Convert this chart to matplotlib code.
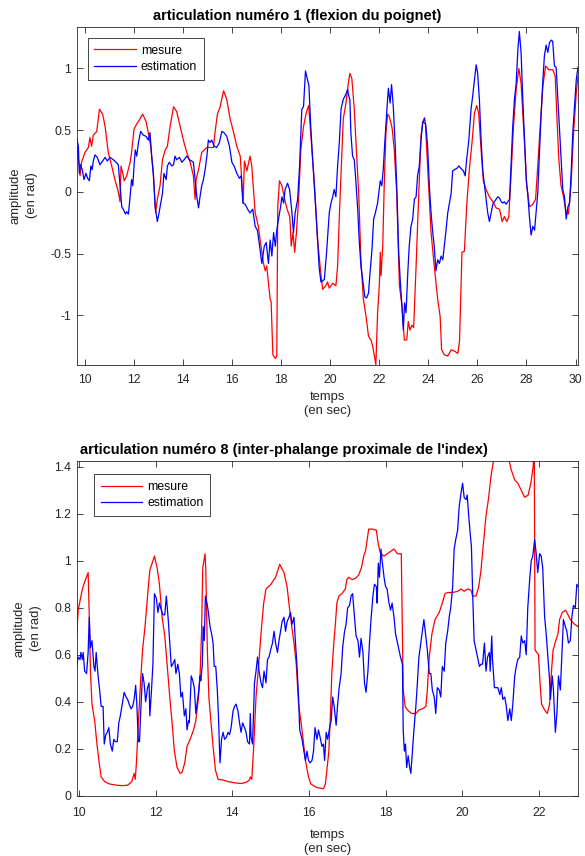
import numpy as np
import matplotlib
matplotlib.use("Agg")
import matplotlib.pyplot as plt
from matplotlib.ticker import FormatStrFormatter

plt.rcParams['font.family'] = ['Liberation Sans', 'DejaVu Sans']

# articulation 1 : (temps, amplitude)
mesure1 = [
    (9.66, 0.37), (9.77, 0.21), (9.80, 0.13), (9.86, 0.24), (10.00, 0.32), (10.14, 0.36),
    (10.20, 0.44), (10.27, 0.37), (10.34, 0.46), (10.48, 0.49), (10.59, 0.67), (10.72, 0.63),
    (10.82, 0.53), (10.95, 0.32), (11.09, 0.21), (11.22, 0.10), (11.36, 0.00), (11.43, -0.08),
    (11.47, 0.21), (11.54, 0.15), (11.60, 0.09), (11.70, 0.13), (11.84, 0.24), (11.90, 0.32),
    (12.00, 0.51), (12.11, 0.55), (12.24, 0.59), (12.35, 0.63), (12.49, 0.57), (12.58, 0.48),
    (12.68, 0.37), (12.79, 0.15), (12.88, -0.17), (12.95, -0.06), (13.06, 0.05), (13.16, 0.26),
    (13.27, 0.34), (13.36, 0.37), (13.47, 0.53), (13.61, 0.69), (13.74, 0.65), (13.88, 0.53),
    (14.01, 0.42), (14.15, 0.32), (14.29, 0.24), (14.42, 0.13), (14.49, -0.06), (14.53, 0.10),
    (14.63, 0.18), (14.76, 0.32), (14.86, 0.34), (14.97, 0.36), (15.24, 0.36), (15.30, 0.48),
    (15.40, 0.63), (15.51, 0.69), (15.65, 0.82), (15.78, 0.75), (15.92, 0.59), (16.05, 0.49),
    (16.19, 0.37), (16.33, 0.29), (16.39, 0.10), (16.45, -0.09), (16.50, 0.25), (16.60, 0.17),
    (16.73, 0.29), (16.80, 0.21), (16.94, -0.17), (17.07, -0.28), (17.14, -0.39), (17.28, -0.58),
    (17.35, -0.64), (17.41, -0.60), (17.48, -0.74), (17.55, -0.87), (17.59, -0.89), (17.66, -1.32),
    (17.76, -1.35), (17.82, -1.33), (17.86, -0.12), (17.93, 0.09), (18.03, 0.05), (18.14, -0.06),
    (18.24, -0.14), (18.35, -0.20), (18.41, -0.44), (18.48, -0.33), (18.55, -0.49), (18.62, -0.33),
    (18.71, -0.06), (18.80, 0.34), (18.91, 0.53), (19.02, 0.64), (19.12, 0.70), (19.35, 0.08),
    (19.48, -0.38), (19.61, -0.65), (19.69, -0.79), (19.82, -0.76), (19.89, -0.73), (19.96, -0.78),
    (20.10, -0.74), (20.23, -0.76), (20.30, -0.60), (20.37, -0.20), (20.44, 0.15), (20.53, 0.59),
    (20.64, 0.72), (20.75, 0.90), (20.80, 0.96), (20.88, 0.92), (20.98, 0.67), (21.07, 0.32),
    (21.16, -0.01), (21.25, -0.55), (21.35, -0.87), (21.46, -1.01), (21.56, -1.17), (21.66, -1.20),
    (21.73, -1.25), (21.80, -1.33), (21.86, -1.40), (21.93, -0.98), (22.00, -0.76), (22.04, -0.49),
    (22.07, -0.68), (22.14, -0.44), (22.20, 0.05), (22.27, 0.48), (22.34, 0.63), (22.41, 0.61),
    (22.52, 0.52), (22.61, 0.34), (22.71, -0.01), (22.82, -0.76), (22.93, -0.93), (23.02, -1.20),
    (23.12, -1.20), (23.18, -1.05), (23.25, -1.12), (23.33, -1.08), (23.40, -1.10), (23.50, -0.60),
    (23.60, -0.06), (23.70, 0.45), (23.77, 0.57), (23.88, 0.55), (23.97, 0.21), (24.11, -0.33),
    (24.24, -0.60), (24.38, -0.87), (24.48, -1.01), (24.54, -1.28), (24.65, -1.32), (24.79, -1.33),
    (24.93, -1.28), (25.07, -1.29), (25.20, -1.31), (25.27, -1.21), (25.37, -0.49), (25.47, -0.48),
    (25.56, -0.12), (25.67, 0.18), (25.78, 0.40), (25.88, 0.64), (25.97, 0.70), (26.05, 0.64),
    (26.15, 0.34), (26.24, 0.09), (26.35, 0.02), (26.49, -0.04), (26.63, -0.08), (26.76, -0.13),
    (26.90, -0.14), (27.01, -0.24), (27.10, -0.20), (27.20, -0.24), (27.28, -0.20), (27.37, 0.13),
    (27.47, 0.53), (27.58, 0.83), (27.69, 1.00), (27.78, 0.88), (27.88, 0.53), (27.92, 0.40),
    (28.01, 0.05), (28.12, -0.12), (28.26, -0.10), (28.37, -0.06), (28.46, 0.21), (28.56, 0.53),
    (28.67, 0.86), (28.78, 1.02), (28.91, 0.99), (29.07, 0.99), (29.17, 0.94), (29.24, 0.61),
    (29.32, 0.26), (29.41, 0.05), (29.51, -0.04), (29.62, -0.17), (29.71, -0.18), (29.82, 0.07),
    (29.92, 0.48), (30.03, 0.80), (30.10, 0.94),
]

estimation1 = [
    (9.66, 0.44), (9.73, 0.37), (9.77, 0.15), (9.82, 0.22), (9.89, 0.18), (9.96, 0.10),
    (10.04, 0.15), (10.11, 0.11), (10.18, 0.09), (10.24, 0.21), (10.29, 0.18), (10.34, 0.25),
    (10.41, 0.30), (10.50, 0.28), (10.61, 0.22), (10.72, 0.25), (10.82, 0.28), (10.91, 0.25),
    (11.02, 0.28), (11.16, 0.26), (11.27, 0.24), (11.36, 0.22), (11.43, 0.05), (11.50, -0.12),
    (11.56, -0.14), (11.65, -0.18), (11.70, -0.16), (11.77, -0.18), (11.84, -0.04), (11.90, 0.10),
    (11.95, 0.05), (12.00, 0.21), (12.05, 0.34), (12.11, 0.29), (12.18, 0.40), (12.27, 0.49),
    (12.38, 0.46), (12.49, 0.45), (12.58, 0.42), (12.65, 0.48), (12.72, 0.29), (12.79, 0.13),
    (12.86, -0.12), (12.95, -0.24), (13.02, -0.17), (13.09, -0.09), (13.16, -0.01), (13.22, 0.15),
    (13.31, 0.10), (13.36, 0.21), (13.44, 0.24), (13.54, 0.21), (13.61, 0.22), (13.67, 0.29),
    (13.74, 0.26), (13.85, 0.28), (13.95, 0.24), (14.04, 0.26), (14.15, 0.29), (14.26, 0.26),
    (14.35, 0.25), (14.42, 0.24), (14.49, 0.10), (14.56, -0.04), (14.63, -0.13), (14.69, -0.04),
    (14.76, 0.05), (14.83, 0.10), (14.90, 0.18), (14.97, 0.29), (15.03, 0.42), (15.10, 0.40),
    (15.17, 0.42), (15.27, 0.37), (15.37, 0.36), (15.48, 0.40), (15.58, 0.49), (15.67, 0.48),
    (15.78, 0.45), (15.89, 0.37), (15.99, 0.24), (16.08, 0.21), (16.19, 0.15), (16.30, 0.11),
    (16.37, 0.13), (16.44, -0.09), (16.53, -0.10), (16.63, -0.14), (16.73, -0.17), (16.84, -0.14),
    (16.94, -0.28), (17.03, -0.31), (17.12, -0.44), (17.21, -0.58), (17.31, -0.44), (17.39, -0.41),
    (17.48, -0.58), (17.55, -0.39), (17.62, -0.52), (17.69, -0.33), (17.76, -0.44), (17.82, -0.31),
    (17.89, -0.22), (17.96, -0.14), (18.03, -0.04), (18.10, -0.09), (18.16, 0.02), (18.26, 0.07),
    (18.34, 0.02), (18.44, -0.17), (18.50, -0.33), (18.57, -0.17), (18.67, -0.06), (18.75, 0.21),
    (18.84, 0.67), (18.91, 0.69), (18.99, 0.98), (19.07, 0.91), (19.13, 0.86), (19.20, 0.55),
    (19.28, 0.27), (19.35, 0.05), (19.45, -0.27), (19.55, -0.62), (19.62, -0.73), (19.76, -0.71),
    (19.85, -0.49), (19.96, -0.17), (20.03, -0.09), (20.10, -0.04), (20.16, 0.02), (20.23, -0.04),
    (20.30, 0.21), (20.37, 0.40), (20.44, 0.67), (20.53, 0.75), (20.61, 0.78), (20.71, 0.83),
    (20.75, 0.78), (20.80, 0.75), (20.84, 0.48), (20.91, 0.29), (20.98, 0.26), (21.05, 0.07),
    (21.12, -0.14), (21.18, -0.39), (21.25, -0.60), (21.32, -0.71), (21.41, -0.85), (21.48, -0.86),
    (21.56, -0.82), (21.62, -0.66), (21.70, -0.47), (21.77, -0.22), (21.84, -0.17), (21.93, -0.09),
    (22.00, 0.02), (22.04, 0.09), (22.10, 0.05), (22.16, 0.18), (22.23, 0.42), (22.31, 0.67),
    (22.37, 0.84), (22.44, 0.72), (22.50, 0.87), (22.57, 0.69), (22.65, 0.37), (22.72, -0.01),
    (22.79, -0.49), (22.86, -0.74), (22.93, -0.95), (22.98, -1.12), (23.03, -0.90), (23.09, -0.98),
    (23.16, -0.66), (23.22, -0.44), (23.29, -0.28), (23.36, -0.22), (23.43, -0.06), (23.50, -0.04),
    (23.56, 0.13), (23.63, 0.21), (23.70, 0.42), (23.77, 0.56), (23.84, 0.60), (23.90, 0.53),
    (23.97, 0.37), (24.04, 0.05), (24.11, -0.17), (24.18, -0.33), (24.24, -0.44), (24.31, -0.64),
    (24.38, -0.55), (24.45, -0.58), (24.52, -0.52), (24.59, -0.55), (24.65, -0.44), (24.72, -0.31),
    (24.79, -0.17), (24.86, -0.09), (24.93, -0.01), (24.99, 0.17), (25.06, 0.18), (25.16, 0.19),
    (25.24, 0.21), (25.33, 0.19), (25.43, 0.17), (25.50, 0.13), (25.56, 0.26), (25.65, 0.42),
    (25.74, 0.67), (25.81, 0.78), (25.88, 0.91), (25.95, 1.03), (26.01, 0.96), (26.08, 0.75),
    (26.15, 0.42), (26.22, 0.17), (26.29, 0.05), (26.35, -0.06), (26.42, -0.17), (26.49, -0.24),
    (26.56, -0.17), (26.63, -0.10), (26.69, -0.08), (26.76, -0.06), (26.83, -0.04), (26.90, -0.05),
    (26.97, -0.08), (27.03, -0.09), (27.10, -0.08), (27.17, -0.10), (27.24, -0.08), (27.31, -0.06),
    (27.37, 0.21), (27.44, 0.53), (27.51, 0.75), (27.58, 0.88), (27.65, 1.15), (27.71, 1.30),
    (27.78, 1.13), (27.85, 0.75), (27.92, 0.42), (27.99, 0.10), (28.05, -0.01), (28.12, -0.20),
    (28.19, -0.35), (28.26, -0.28), (28.33, -0.31), (28.39, -0.17), (28.46, -0.01), (28.53, 0.32),
    (28.60, 0.64), (28.67, 0.91), (28.73, 1.10), (28.80, 1.19), (28.87, 1.13), (28.94, 1.21),
    (29.01, 1.23), (29.07, 1.22), (29.14, 1.02), (29.21, 1.01), (29.28, 0.75), (29.35, 0.48),
    (29.41, 0.26), (29.48, 0.02), (29.55, -0.04), (29.62, -0.22), (29.69, -0.12), (29.76, -0.09),
    (29.82, 0.15), (29.89, 0.48), (29.96, 0.69), (30.03, 0.91), (30.10, 1.01),
]

# articulation 8 : (temps, amplitude)
mesure8 = [
    (9.94, 0.68), (9.98, 0.79), (10.03, 0.83), (10.09, 0.88), (10.15, 0.91), (10.24, 0.95),
    (10.27, 0.76), (10.30, 0.53), (10.34, 0.39), (10.41, 0.32), (10.47, 0.22), (10.52, 0.15),
    (10.58, 0.08), (10.67, 0.06), (10.80, 0.05), (10.97, 0.045), (11.14, 0.043), (11.27, 0.045),
    (11.38, 0.06), (11.44, 0.095), (11.47, 0.07), (11.50, 0.14), (11.55, 0.31), (11.61, 0.49),
    (11.66, 0.62), (11.73, 0.73), (11.79, 0.85), (11.85, 0.96), (11.91, 0.99), (11.97, 1.02),
    (12.04, 0.97), (12.10, 0.90), (12.17, 0.76), (12.24, 0.68), (12.30, 0.56), (12.37, 0.42),
    (12.43, 0.31), (12.49, 0.19), (12.56, 0.12), (12.64, 0.095), (12.69, 0.10), (12.76, 0.14),
    (12.82, 0.21), (12.90, 0.24), (12.99, 0.28), (13.05, 0.32), (13.12, 0.42), (13.16, 0.51),
    (13.20, 0.70), (13.23, 0.97), (13.29, 1.03), (13.31, 0.96), (13.35, 0.62), (13.39, 0.42),
    (13.44, 0.32), (13.50, 0.21), (13.56, 0.11), (13.63, 0.07), (13.76, 0.067), (13.89, 0.06),
    (14.06, 0.055), (14.23, 0.052), (14.36, 0.057), (14.45, 0.067), (14.47, 0.08), (14.51, 0.07),
    (14.56, 0.21), (14.62, 0.42), (14.69, 0.56), (14.75, 0.69), (14.82, 0.82), (14.88, 0.88),
    (15.01, 0.90), (15.13, 0.93), (15.24, 0.985), (15.35, 0.95), (15.43, 0.89), (15.52, 0.76),
    (15.61, 0.65), (15.67, 0.56), (15.73, 0.39), (15.82, 0.28), (15.91, 0.15), (15.99, 0.08),
    (16.05, 0.05), (16.20, 0.035), (16.38, 0.03), (16.43, 0.05), (16.47, 0.11), (16.52, 0.19),
    (16.56, 0.34), (16.60, 0.53), (16.65, 0.65), (16.69, 0.73), (16.73, 0.82), (16.78, 0.85),
    (16.86, 0.86), (16.95, 0.88), (16.99, 0.92), (17.04, 0.93), (17.13, 0.92), (17.21, 0.925),
    (17.30, 0.94), (17.37, 0.97), (17.43, 1.02), (17.48, 1.045), (17.56, 1.135), (17.65, 1.135),
    (17.76, 1.13), (17.81, 1.07), (17.87, 1.03), (17.96, 1.02), (18.04, 1.03), (18.13, 1.04),
    (18.22, 1.05), (18.31, 1.03), (18.41, 1.03), (18.44, 0.70), (18.46, 0.45), (18.51, 0.38),
    (18.57, 0.365), (18.68, 0.35), (18.79, 0.35), (18.87, 0.365), (18.96, 0.37), (19.05, 0.38),
    (19.09, 0.45), (19.14, 0.59), (19.21, 0.69), (19.29, 0.75), (19.40, 0.78), (19.48, 0.82),
    (19.55, 0.86), (19.62, 0.865), (19.75, 0.865), (19.88, 0.87), (19.97, 0.88), (20.05, 0.87),
    (20.14, 0.88), (20.23, 0.875), (20.27, 0.85), (20.36, 0.85), (20.43, 0.89), (20.49, 0.96),
    (20.55, 1.07), (20.62, 1.19), (20.69, 1.27), (20.75, 1.36), (20.81, 1.42), (20.84, 1.44),
    (20.95, 1.52), (21.05, 1.55), (21.15, 1.48), (21.22, 1.43), (21.28, 1.386), (21.37, 1.344),
    (21.45, 1.33), (21.54, 1.30), (21.63, 1.27), (21.72, 1.28), (21.79, 1.33), (21.85, 1.40),
    (21.88, 1.47), (21.90, 0.62), (21.99, 0.60), (22.03, 0.48), (22.07, 0.39), (22.15, 0.365),
    (22.22, 0.35), (22.28, 0.39), (22.32, 0.51), (22.37, 0.62), (22.44, 0.66), (22.50, 0.69),
    (22.54, 0.75), (22.61, 0.78), (22.70, 0.79), (22.76, 0.77), (22.82, 0.75), (22.87, 0.74),
    (22.93, 0.73), (23.02, 0.72),
]

estimation8 = [
    (9.94, 0.55), (9.98, 0.59), (10.03, 0.58), (10.05, 0.61), (10.09, 0.58), (10.11, 0.61),
    (10.15, 0.53), (10.20, 0.52), (10.24, 0.61), (10.27, 0.76), (10.30, 0.63), (10.34, 0.66),
    (10.39, 0.55), (10.42, 0.53), (10.45, 0.61), (10.50, 0.51), (10.54, 0.45), (10.58, 0.38),
    (10.63, 0.38), (10.66, 0.22), (10.70, 0.26), (10.74, 0.27), (10.78, 0.29), (10.82, 0.22),
    (10.87, 0.19), (10.91, 0.24), (10.95, 0.23), (11.00, 0.23), (11.04, 0.31), (11.08, 0.34),
    (11.12, 0.38), (11.18, 0.44), (11.23, 0.42), (11.27, 0.41), (11.31, 0.39), (11.36, 0.37),
    (11.40, 0.38), (11.44, 0.41), (11.48, 0.47), (11.51, 0.39), (11.55, 0.23), (11.58, 0.23),
    (11.61, 0.35), (11.66, 0.52), (11.70, 0.48), (11.74, 0.40), (11.79, 0.46), (11.83, 0.48),
    (11.85, 0.34), (11.89, 0.44), (11.93, 0.56), (11.97, 0.86), (12.02, 0.84), (12.06, 0.78),
    (12.10, 0.82), (12.15, 0.79), (12.19, 0.77), (12.24, 0.77), (12.28, 0.85), (12.33, 0.75),
    (12.37, 0.65), (12.41, 0.55), (12.45, 0.56), (12.50, 0.58), (12.53, 0.52), (12.58, 0.56),
    (12.62, 0.52), (12.66, 0.42), (12.70, 0.44), (12.75, 0.34), (12.79, 0.37), (12.82, 0.28),
    (12.86, 0.32), (12.88, 0.31), (12.93, 0.51), (12.97, 0.49), (13.01, 0.46), (13.05, 0.35),
    (13.08, 0.39), (13.12, 0.44), (13.16, 0.51), (13.18, 0.49), (13.22, 0.56), (13.24, 0.72),
    (13.27, 0.66), (13.30, 0.85), (13.34, 0.82), (13.37, 0.79), (13.42, 0.72), (13.46, 0.69),
    (13.50, 0.65), (13.53, 0.55), (13.57, 0.55), (13.61, 0.45), (13.64, 0.34), (13.68, 0.14),
    (13.72, 0.24), (13.76, 0.27), (13.80, 0.24), (13.85, 0.25), (13.89, 0.27), (13.93, 0.26),
    (13.97, 0.29), (14.02, 0.36), (14.06, 0.38), (14.10, 0.39), (14.15, 0.36), (14.19, 0.31),
    (14.23, 0.27), (14.27, 0.31), (14.32, 0.29), (14.36, 0.27), (14.40, 0.23), (14.45, 0.22),
    (14.47, 0.35), (14.49, 0.25), (14.53, 0.22), (14.58, 0.48), (14.62, 0.53), (14.66, 0.59),
    (14.70, 0.53), (14.75, 0.48), (14.79, 0.46), (14.83, 0.53), (14.88, 0.48), (14.92, 0.58),
    (14.96, 0.59), (15.00, 0.62), (15.05, 0.65), (15.09, 0.70), (15.13, 0.65), (15.18, 0.61),
    (15.22, 0.66), (15.26, 0.70), (15.30, 0.74), (15.35, 0.76), (15.39, 0.70), (15.43, 0.74),
    (15.48, 0.76), (15.52, 0.78), (15.56, 0.73), (15.61, 0.76), (15.65, 0.65), (15.69, 0.55),
    (15.73, 0.42), (15.76, 0.28), (15.82, 0.24), (15.86, 0.20), (15.91, 0.15), (15.95, 0.19),
    (15.99, 0.15), (16.03, 0.14), (16.08, 0.15), (16.12, 0.19), (16.16, 0.29), (16.21, 0.24),
    (16.25, 0.28), (16.29, 0.25), (16.34, 0.21), (16.38, 0.22), (16.41, 0.15), (16.45, 0.27),
    (16.49, 0.24), (16.53, 0.28), (16.58, 0.32), (16.62, 0.42), (16.66, 0.38), (16.71, 0.30),
    (16.75, 0.39), (16.79, 0.46), (16.84, 0.52), (16.88, 0.63), (16.93, 0.70), (16.97, 0.73),
    (17.01, 0.80), (17.06, 0.81), (17.10, 0.85), (17.14, 0.86), (17.19, 0.76), (17.23, 0.68),
    (17.28, 0.66), (17.32, 0.59), (17.36, 0.67), (17.41, 0.61), (17.45, 0.48), (17.49, 0.44),
    (17.54, 0.53), (17.58, 0.65), (17.62, 0.75), (17.67, 0.85), (17.71, 0.90), (17.76, 0.89),
    (17.78, 0.82), (17.81, 0.99), (17.84, 0.93), (17.88, 1.05), (17.91, 1.00), (17.96, 0.93),
    (18.00, 0.89), (18.04, 0.88), (18.09, 0.82), (18.13, 0.79), (18.17, 0.82), (18.22, 0.76),
    (18.26, 0.69), (18.31, 0.65), (18.35, 0.62), (18.39, 0.59), (18.44, 0.56), (18.46, 0.28),
    (18.49, 0.19), (18.52, 0.22), (18.55, 0.12), (18.59, 0.17), (18.63, 0.12), (18.66, 0.095),
    (18.70, 0.19), (18.74, 0.28), (18.79, 0.38), (18.83, 0.48), (18.87, 0.59), (18.92, 0.65),
    (18.96, 0.70), (19.00, 0.75), (19.05, 0.68), (19.09, 0.62), (19.14, 0.52), (19.18, 0.52),
    (19.22, 0.45), (19.27, 0.42), (19.31, 0.35), (19.35, 0.46), (19.40, 0.45), (19.44, 0.42),
    (19.48, 0.55), (19.53, 0.53), (19.57, 0.65), (19.62, 0.70), (19.66, 0.76), (19.70, 0.80),
    (19.75, 0.89), (19.79, 1.05), (19.83, 1.09), (19.88, 1.13), (19.92, 1.23), (19.97, 1.29),
    (20.01, 1.33), (20.05, 1.27), (20.10, 1.26), (20.13, 1.28), (20.17, 1.19), (20.20, 1.13),
    (20.24, 1.06), (20.27, 0.875), (20.31, 0.66), (20.36, 0.62), (20.40, 0.59), (20.45, 0.55),
    (20.49, 0.56), (20.53, 0.56), (20.58, 0.65), (20.62, 0.53), (20.66, 0.59), (20.71, 0.61),
    (20.73, 0.53), (20.77, 0.68), (20.79, 0.58), (20.84, 0.46), (20.89, 0.46), (20.93, 0.46),
    (20.98, 0.43), (21.02, 0.46), (21.06, 0.41), (21.11, 0.42), (21.15, 0.38), (21.19, 0.32),
    (21.24, 0.37), (21.28, 0.32), (21.32, 0.39), (21.37, 0.51), (21.41, 0.55), (21.45, 0.58),
    (21.50, 0.59), (21.54, 0.68), (21.58, 0.65), (21.63, 0.66), (21.67, 0.60), (21.71, 0.80),
    (21.76, 0.92), (21.80, 1.00), (21.84, 1.02), (21.89, 1.09), (21.93, 1.03), (21.97, 0.95),
    (22.02, 1.03), (22.06, 1.02), (22.10, 0.97), (22.15, 0.76), (22.19, 0.69), (22.24, 0.58),
    (22.28, 0.49), (22.30, 0.41), (22.35, 0.51), (22.38, 0.45), (22.43, 0.27), (22.47, 0.35),
    (22.51, 0.51), (22.56, 0.45), (22.60, 0.60), (22.64, 0.75), (22.69, 0.72), (22.73, 0.70),
    (22.77, 0.65), (22.82, 0.66), (22.86, 0.76), (22.90, 0.81), (22.95, 0.80), (22.99, 0.90),
    (23.02, 0.89),
]

titles = ["articulation numéro 1 (flexion du poignet)",
          "articulation numéro 8 (inter-phalange proximale de l'index)"]
xlims = [(9.66, 30.1), (9.94, 23.02)]
ylims = [(-1.40, 1.34), (0.0, 1.426)]
xticks = [np.arange(10, 31, 2), np.arange(10, 23, 2)]
yticks = [[-1, -0.5, 0, 0.5, 1], [0, 0.2, 0.4, 0.6, 0.8, 1, 1.2, 1.4]]
legend_anchor = [(0.022, 0.966), (0.035, 0.96)]
title_x = [0.44, 0.413]
xlabel_pad = [3, 7]
xtick_pad = [7, 8]

fig = plt.figure(figsize=(5.85, 8.56), dpi=100)
ax1 = fig.add_axes([0.131, 0.574, 0.857, 0.395])
ax2 = fig.add_axes([0.131, 0.0704, 0.857, 0.3914])

for i, (ax, mes, est) in enumerate([(ax1, mesure1, estimation1), (ax2, mesure8, estimation8)]):
    tm, ym = np.array(mes).T
    te, ye = np.array(est).T
    ax.plot(tm, ym, color='#ff0000', lw=0.9, label='mesure')
    ax.plot(te, ye, color='#0000ff', lw=0.9, label='estimation')
    ax.set_xlim(*xlims[i])
    ax.set_ylim(*ylims[i])
    ax.set_xticks(xticks[i])
    ax.set_yticks(yticks[i])
    ax.yaxis.set_major_formatter(FormatStrFormatter('%g'))
    ax.tick_params(direction='in', length=4, width=0.6, top=True, right=True,
                   labelsize=8.8, colors='#262626', pad=4)
    ax.tick_params(axis='x', pad=xtick_pad[i])
    for sp in ax.spines.values():
        sp.set_color('#262626')
        sp.set_linewidth(0.6)
    ax.set_title(titles[i], fontsize=10.5, fontweight='bold', pad=5, x=title_x[i])
    ax.set_xlabel('temps\n(en sec)', fontsize=9.4, color='#262626',
                  labelpad=xlabel_pad[i], linespacing=1.3)
    ax.set_ylabel('amplitude\n(en rad)', fontsize=9.4, color='#262626', labelpad=9,
                  linespacing=1.4)
    leg = ax.legend(loc='upper left', bbox_to_anchor=legend_anchor[i], borderaxespad=0,
                    fontsize=8.8, fancybox=False, edgecolor='#262626', framealpha=1,
                    handlelength=3.4, handletextpad=0.4, borderpad=0.55, labelspacing=0.35)
    leg.get_frame().set_linewidth(0.6)

fig.savefig('out.png', dpi=100)
